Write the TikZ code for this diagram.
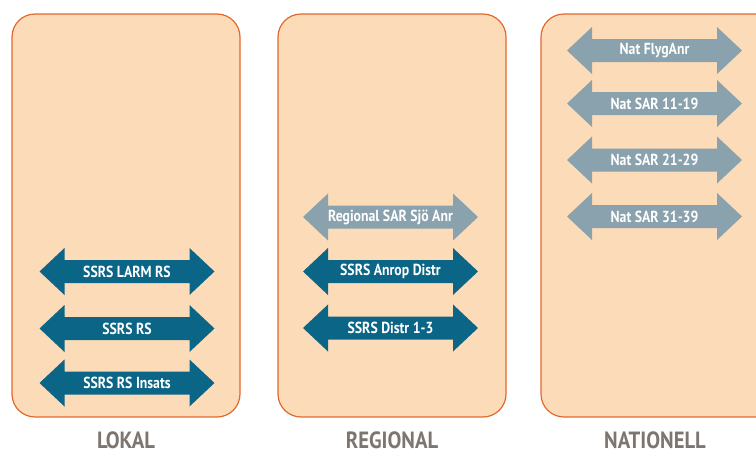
\documentclass[tikz,border=0pt]{standalone}
\usepackage{fontspec}
\newfontfamily\arrowfont[FakeStretch=0.86]{PT Sans}
\newfontfamily\labfont[FakeStretch=0.88]{PT Sans}
\definecolor{boxfill}{HTML}{FCDCB8}
\definecolor{boxline}{HTML}{E2682C}
\definecolor{darkarr}{HTML}{0B6586}
\definecolor{greyarr}{HTML}{8AA1AE}
\definecolor{labgrey}{HTML}{7D7670}
\tikzset{
  zonebox/.style={fill=boxfill, draw=boxline, line width=1.2pt, rounded corners=23pt},
  arrowtxt/.style={inner sep=0pt, text=white, font=\arrowfont\bfseries\fontsize{16}{16}\selectfont},
  zonelabel/.style={inner sep=0pt, anchor=base, text depth=0pt, text=labgrey, font=\labfont\bfseries\fontsize{23.5}{24}\selectfont},
}
\newcommand\dblarrow[5]{%
  \fill[#4] (#2,#3) ++(-87.5,0) -- ++(25,-23.5) -- ++(0,12) -- ++(125,0) -- ++(0,-12)
    -- ++(25,23.5) -- ++(-25,23.5) -- ++(0,-12) -- ++(-125,0) -- ++(0,12) -- cycle;
  \node[arrowtxt] (#1) at (#2,#3) {#5};}
\begin{document}
\begin{tikzpicture}[x=1pt,y=-1pt]
\useasboundingbox (0,0) rectangle (756,453);
\begin{scope}
\clip (0,0) rectangle (756,453);
\draw[zonebox] (12,14) rectangle (240,417);
\draw[zonebox] (278,14) rectangle (506,417);
\draw[zonebox] (541,14) rectangle (780,417);
\end{scope}
\node[zonelabel] (lokal) at (126,448.5) {LOKAL};
\node[zonelabel] (regional) at (392,448.5) {REGIONAL};
\node[zonelabel] (nationell) at (655,448.5) {NATIONELL};
\dblarrow{l1}{127}{271.5}{darkarr}{SSRS LARM RS}
\dblarrow{l2}{127}{328.5}{darkarr}{SSRS RS}
\dblarrow{l3}{127}{383}{darkarr}{SSRS RS Insats}
\dblarrow{r1}{390.5}{217}{greyarr}{Regional SAR Sjö Anr}
\dblarrow{r2}{390.5}{271.5}{darkarr}{SSRS Anrop Distr}
\dblarrow{r3}{390.5}{328}{darkarr}{SSRS Distr 1-3}
\dblarrow{n1}{654.5}{50.5}{greyarr}{Nat FlygAnr}
\dblarrow{n2}{654.5}{103.5}{greyarr}{Nat SAR 11-19}
\dblarrow{n3}{654.5}{160}{greyarr}{Nat SAR 21-29}
\dblarrow{n4}{654.5}{216.5}{greyarr}{Nat SAR 31-39}
\end{tikzpicture}
\end{document}
